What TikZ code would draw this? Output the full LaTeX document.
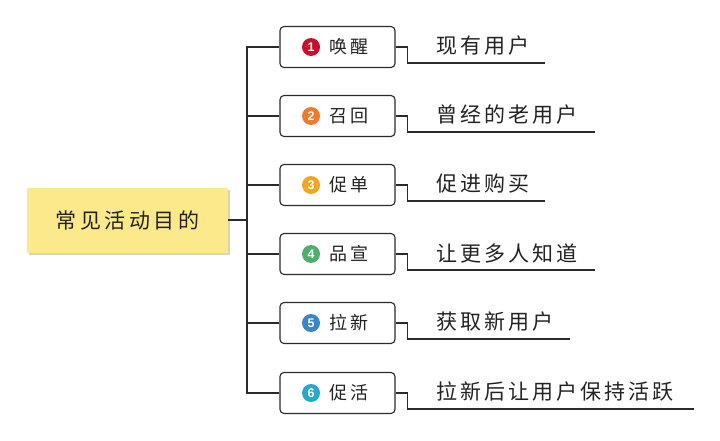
\documentclass[tikz,border=0pt]{standalone}
\usepackage{fontspec}
\setmainfont{Noto Sans CJK SC}
\newfontfamily\numfont{Liberation Sans}
\definecolor{lc}{HTML}{2B2B2B}
\definecolor{tc}{HTML}{222222}
\definecolor{rootfill}{HTML}{FBE98C}
\definecolor{shadowc}{HTML}{D9D4B8}
\definecolor{c1}{HTML}{C8102E}
\definecolor{c2}{HTML}{EE7A30}
\definecolor{c3}{HTML}{F2A71E}
\definecolor{c4}{HTML}{4DAE6E}
\definecolor{c5}{HTML}{3A86C8}
\definecolor{c6}{HTML}{2AA7C9}
\tikzset{
  conn/.style={draw=lc, line width=1.1pt},
  itembox/.style={draw=lc, line width=1.1pt, rounded corners=4pt, fill=white, minimum width=115pt, minimum height=41pt, inner sep=0pt},
  numdot/.style={circle, inner sep=0pt, minimum size=18pt, text=white, font=\numfont\bfseries\fontsize{12.5}{12.5}\selectfont},
  itemlabel/.style={anchor=west, inner sep=0pt, text=tc, font=\fontsize{18}{18}\selectfont},
  desc/.style={anchor=west, inner sep=0pt, text=tc, font=\fontsize{21}{22}\selectfont},
  rootbox/.style={fill=rootfill, minimum width=201pt, minimum height=65pt, inner sep=0pt, text=tc, font=\fontsize{21}{22}\selectfont}
}
\newcommand{\gp}{\hspace{3pt}}
\begin{document}
\begin{tikzpicture}[x=1pt,y=-1pt]
\useasboundingbox (0,0) rectangle (720,441);
% root
\fill[shadowc] (29,190) rectangle (230,255);
\node[rootbox] (root) at (127.5,220) {常\,见\,活\,动\,目\,的};
\draw[conn] (root.east) -- (247,220) coordinate (j);
% items
\foreach \i/\y/\col/\lab/\txt/\ex in {
  1/47/c1/唤\gp{}醒/现\gp{}有\gp{}用\gp{}户/545,
  2/116/c2/召\gp{}回/曾\gp{}经\gp{}的\gp{}老\gp{}用\gp{}户/595,
  3/185/c3/促\gp{}单/促\gp{}进\gp{}购\gp{}买/545,
  4/254/c4/品\gp{}宣/让\gp{}更\gp{}多\gp{}人\gp{}知\gp{}道/595,
  5/323/c5/拉\gp{}新/获\gp{}取\gp{}新\gp{}用\gp{}户/570,
  6/393/c6/促\gp{}活/拉\gp{}新\gp{}后\gp{}让\gp{}用\gp{}户\gp{}保\gp{}持\gp{}活\gp{}跃/694}{
  \node[itembox] (b\i) at (337.5,\y) {};
  \node[numdot, fill=\col] (n\i) at (311,\y) {\i};
  \node[itemlabel] (l\i) at (329,\y) {\lab};
  \node[desc] (t\i) at (436,\y-1) {\txt};
  \coordinate (e\i) at (\ex,\y+16);
  \draw[conn] (j) |- (b\i.west);
  \draw[conn] (b\i.east) -- ++(12,0) |- (e\i);
}
\end{tikzpicture}
\end{document}
